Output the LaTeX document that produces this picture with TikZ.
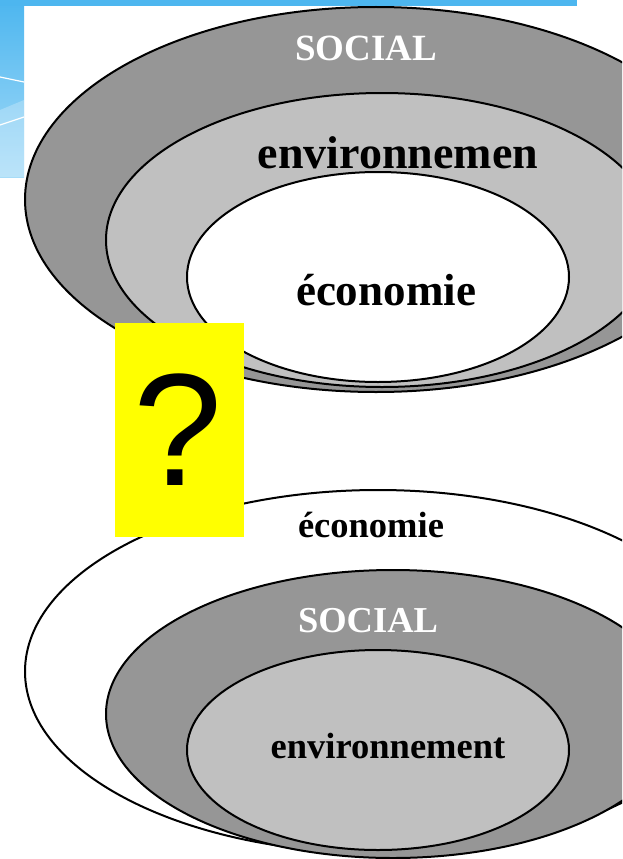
\documentclass[tikz,border=0pt]{standalone}
\usepackage{fontspec}
\setmainfont{Liberation Serif}
\newfontfamily\qfont{Liberation Sans}
\definecolor{skyblue}{HTML}{4DB6EF}
\definecolor{skylight}{HTML}{A5DBF8}
\definecolor{darkgr}{HTML}{969696}
\definecolor{lightgr}{HTML}{C0C0C0}
\definecolor{qyellow}{HTML}{FFFF00}
\begin{document}
\begin{tikzpicture}[x=1pt,y=-1pt,
  ring/.style={draw=black,line width=2pt},
  lbl/.style={font=\bfseries, anchor=base, inner sep=0pt},
  big/.style={lbl, font=\fontsize{46}{46}\selectfont\bfseries},
  mid/.style={lbl, font=\fontsize{37}{37}\selectfont\bfseries},
  small/.style={lbl, font=\fontsize{36.5}{36.5}\selectfont\bfseries}]
\useasboundingbox (0,0) rectangle (622,859);
\clip (0,0) rectangle (622,859);
\fill[white] (0,0) rectangle (622,859);
% blue slide background
\shade[top color=skyblue,bottom color=skylight] (0,0) rectangle (24,177);
\fill[skyblue] (0,0) rectangle (577,6);
\draw[white, line width=1.2pt] (0,77) -- (24,82);
\draw[white, line width=1.2pt] (0,125) -- (24,117);
\fill[white, opacity=0.25] (0,110) -- (24,100) -- (24,177) -- (0,177) -- cycle;
% top diagram
\draw[ring, fill=darkgr] (376,199.5) ellipse [x radius=351pt, y radius=192.5pt];
\draw[ring, fill=lightgr] (382,240) ellipse [x radius=276pt, y radius=147pt];
\draw[ring, fill=white] (378,277) ellipse [x radius=191pt, y radius=105pt];
\node[mid, text=white] (s1) at (366,60) {SOCIAL};
\node[big] (env1) at (398,168) {environnemen};
\node[big, font=\fontsize{45}{45}\selectfont\bfseries] (eco1) at (386,305) {économie};
% bottom diagram
\draw[ring, fill=white] (378,671.5) ellipse [x radius=353pt, y radius=181.5pt];
\draw[ring, fill=darkgr] (393,714) ellipse [x radius=287pt, y radius=144pt];
\draw[ring, fill=lightgr] (378,750) ellipse [x radius=191pt, y radius=100pt];
\node[small] (eco2) at (371,537) {économie};
\node[small, text=white] (s2) at (368,632) {SOCIAL};
\node[small] (env2) at (388,758) {environnement};
% question box
\fill[qyellow] (115,323) rectangle (244,537);
\node[anchor=base, inner sep=0pt, font=\qfont\fontsize{160}{160}\selectfont] (q) at (178,485) {?};
\end{tikzpicture}
\end{document}
